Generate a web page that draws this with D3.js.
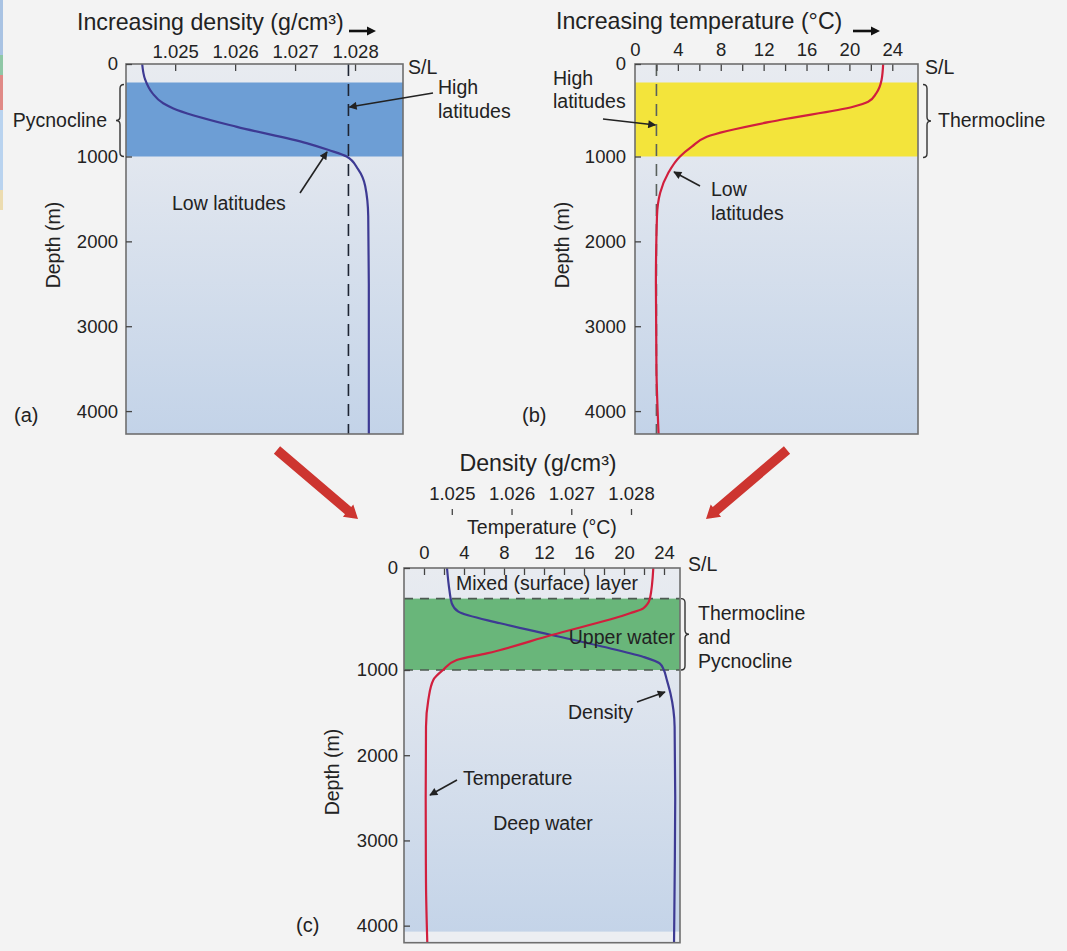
<!DOCTYPE html>
<html>
<head>
<meta charset="utf-8">
<script src="https://cdn.jsdelivr.net/npm/d3@7"></script>
<style>
  html, body { margin: 0; padding: 0; background: #f3f3f3; }
  svg { display: block; font-family: "Liberation Sans", Arial, sans-serif; }
</style>
</head>
<body>
<svg id="chart" width="1067" height="951"></svg>
<script>
// ---- data ----
const depthTicks = [0, 1000, 2000, 3000, 4000];
const densityTicks = [1.025, 1.026, 1.027, 1.028];
const tempLabelTicks = [0, 4, 8, 12, 16, 20, 24];
const tempMinorTicksB = [2, 4, 6, 8, 10, 12, 14, 16, 18, 20, 22, 24];
const tempMinorTicksC = [0, 2, 4, 6, 8, 10, 12, 14, 16, 18, 20, 22, 24];

const clineBandAB = [200, 1000];   // pycnocline (a) / thermocline (b)
const clineBandC = [300, 1000];    // thermocline and pycnocline (c)

// (a) density, low latitudes
const depthsA = [0, 170, 315, 425, 480, 680, 855, 930, 1000, 1150, 1350, 1700, 2500, 3500, 4270];
const densityLowLat = [1.02445, 1.0245, 1.02462, 1.0248, 1.02497, 1.02603, 1.02719, 1.02756, 1.02786, 1.02805, 1.02817, 1.02822, 1.02823, 1.02823, 1.02823];
const densityHighLat = 1.02789;

// (b) temperature, low latitudes
const depthsB = [0, 173, 317, 408, 462, 605, 786, 894, 1000, 1195, 1427, 1705, 2500, 3500, 4270];
const tempLowLat = [23.15, 23.0, 22.5, 21.75, 20.35, 13.5, 6.7, 5.3, 4.2, 3.1, 2.35, 2.05, 1.95, 2.0, 2.2];
const tempHighLat = 2.0;

// (c) combined profile
const depthsCTemp = [0, 297, 395, 444, 657, 837, 902, 1000, 1117, 1352, 1665, 2500, 3500, 4200];
const tempC = [22.93, 22.6, 21.93, 20.6, 12.77, 6.27, 3.27, 1.9, 0.93, 0.43, 0.2, 0.17, 0.2, 0.33];
const depthsCDens = [0, 216, 346, 428, 542, 657, 765, 870, 935, 1000, 1117, 1274, 1665, 2500, 3500, 4200];
const densityC = [1.02492, 1.02496, 1.025, 1.02511, 1.02581, 1.02667, 1.02748, 1.0282, 1.02848, 1.02855, 1.0286, 1.02866, 1.02873, 1.02874, 1.02873, 1.02872];

// ---- styles ----
const INK = "#222";
const BLUE_LINE = "#3d3a93";
const RED_LINE = "#d11f3d";
const TICK_FONT = 18.5;
const LABEL_FONT = 19.5;
const TITLE_FONT = 23.2;

const svg = d3.select("#chart");
const defs = svg.append("defs");

const grad = defs.append("linearGradient").attr("id", "water").attr("x1", 0).attr("y1", 0).attr("x2", 0).attr("y2", 1);
grad.append("stop").attr("offset", "0%").attr("stop-color", "#e8ebf0");
grad.append("stop").attr("offset", "25%").attr("stop-color", "#e2e7ef");
grad.append("stop").attr("offset", "100%").attr("stop-color", "#c3d3e8");

defs.append("marker")
  .attr("id", "head")
  .attr("viewBox", "0 0 10 10")
  .attr("refX", 9).attr("refY", 5)
  .attr("markerWidth", 10).attr("markerHeight", 8)
  .attr("markerUnits", "userSpaceOnUse")
  .attr("orient", "auto")
  .append("path").attr("d", "M0,0 L10,5 L0,10 z").attr("fill", INK);

// leftover sliver of a neighbouring figure at the left edge
const sliverColors = ["#a9c3e3", "#8fc7a6", "#e08a86", "#b9d3ef", "#ecdcb0"];
const sliverStops = [0, 55, 75, 110, 190, 210];
svg.append("g").selectAll("rect").data(sliverColors).join("rect")
  .attr("x", 0).attr("width", 3)
  .attr("y", (d, i) => sliverStops[i]).attr("height", (d, i) => sliverStops[i + 1] - sliverStops[i])
  .attr("fill", d => d);

// ---- scales ----
const yAB = d3.scaleLinear().domain([0, 1000, 4270]).range([64, 156.5, 434]);
const yC = d3.scaleLinear().domain([0, 1000, 4200]).range([568, 670, 942.7]);
const xDensA = d3.scaleLinear().domain([1.02418, 1.0288]).range([126, 403]);
const xTempB = d3.scaleLinear().domain([0, 26.4]).range([635, 918]);
const xDensC = d3.scaleLinear().domain([1.0242, 1.02882]).range([404, 680]);
const xTempC = d3.scaleLinear().domain([-2, 25.6]).range([404, 680]);

function profile(depths, values) {
  return depths.map((d, i) => ({ depth: d, value: values[i] }));
}

function text(g, str, x, y, opt = {}) {
  const t = g.append("text")
    .attr("x", x).attr("y", y)
    .attr("dy", "0.35em")
    .attr("fill", INK)
    .attr("font-size", opt.size ?? LABEL_FONT)
    .attr("text-anchor", opt.anchor ?? "start")
    .text(str);
  if (opt.rotate) t.attr("transform", `rotate(-90,${x},${y})`);
  return t;
}

function pointer(g, x1, y1, x2, y2) {
  g.append("line")
    .attr("x1", x1).attr("y1", y1).attr("x2", x2).attr("y2", y2)
    .attr("stroke", INK).attr("stroke-width", 1.6)
    .attr("marker-end", "url(#head)");
}

// curly brace; dir -1 = nub points left "{", +1 = nub points right "}"
function brace(g, x, y0, y1, dir) {
  const w = 4, r = 4, ym = (y0 + y1) / 2;
  g.append("path")
    .attr("d", `M${x - dir * w},${y0} Q${x},${y0} ${x},${y0 + r} L${x},${ym - r} Q${x},${ym} ${x + dir * w},${ym}` +
      ` Q${x},${ym} ${x},${ym + r} L${x},${y1 - r} Q${x},${y1} ${x - dir * w},${y1}`)
    .attr("fill", "none").attr("stroke", "#333").attr("stroke-width", 1.4);
}

function titleArrow(g, x1, x2, y) {
  g.append("line").attr("x1", x1).attr("y1", y).attr("x2", x2 - 6).attr("y2", y)
    .attr("stroke", "#111").attr("stroke-width", 2.6);
  g.append("path").attr("d", `M${x2 - 9},${y - 4.5} L${x2},${y} L${x2 - 9},${y + 4.5} z`).attr("fill", "#111");
}

function drawBox(g, x, y, depthMax, band, bandColor) {
  const [x0, x1] = x.range();
  g.append("rect")
    .attr("x", x0).attr("y", y(0)).attr("width", x1 - x0).attr("height", y(depthMax) - y(0))
    .attr("fill", "url(#water)");
  g.append("rect")
    .attr("x", x0).attr("y", y(band[0])).attr("width", x1 - x0).attr("height", y(band[1]) - y(band[0]))
    .attr("fill", bandColor);
}

function drawBorder(g, x, y, depthMax) {
  const [x0, x1] = x.range();
  g.append("rect")
    .attr("x", x0).attr("y", y(0)).attr("width", x1 - x0).attr("height", y(depthMax) - y(0))
    .attr("fill", "none").attr("stroke", "#6e6e6e").attr("stroke-width", 1.6);
}

function depthAxis(g, x, y, pad) {
  const ax = g.append("g").attr("transform", `translate(${x.range()[0]},0)`)
    .call(d3.axisLeft(y).tickValues(depthTicks).tickSize(-6).tickPadding(pad).tickFormat(d3.format("d")));
  ax.select(".domain").remove();
  ax.selectAll("line").attr("stroke", "#444").attr("stroke-width", 1.3);
  ax.selectAll("text").attr("fill", INK).attr("font-size", TICK_FONT).attr("font-family", null);
}

function topTicks(g, x, y0, values) {
  const ax = g.append("g").attr("transform", `translate(0,${y0})`)
    .call(d3.axisTop(x).tickValues(values).tickSize(-7).tickFormat(""));
  ax.select(".domain").remove();
  ax.selectAll("line").attr("stroke", "#444").attr("stroke-width", 1.3);
}

function topLabels(g, x, yc, values, fmt) {
  const ax = g.append("g").attr("transform", `translate(0,${yc})`)
    .call(d3.axisTop(x).tickValues(values).tickSize(0).tickPadding(0).tickFormat(fmt));
  ax.select(".domain").remove();
  ax.selectAll("text").attr("fill", INK).attr("font-size", TICK_FONT).attr("font-family", null).attr("dy", "0.35em");
}

function curve(g, x, y, data, color) {
  g.append("path").datum(data)
    .attr("fill", "none").attr("stroke", color).attr("stroke-width", 2.2)
    .attr("d", d3.line().x(d => x(d.value)).y(d => y(d.depth)).curve(d3.curveMonotoneY));
}

function dashedVertical(g, x, y, value, color) {
  g.append("line")
    .attr("x1", x(value)).attr("x2", x(value))
    .attr("y1", y(0)).attr("y2", y(4270))
    .attr("stroke", color).attr("stroke-width", 1.6).attr("stroke-dasharray", "12,8");
}

// ---- panel (a): density ----
const pa = svg.append("g").attr("class", "panel-a");
drawBox(pa, xDensA, yAB, 4270, clineBandAB, "#6d9ed5");
dashedVertical(pa, xDensA, yAB, densityHighLat, "#1d2433");
curve(pa, xDensA, yAB, profile(depthsA, densityLowLat), BLUE_LINE);
topTicks(pa, xDensA, yAB(0), densityTicks);
drawBorder(pa, xDensA, yAB, 4270);
depthAxis(pa, xDensA, yAB, 8);
topLabels(pa, xDensA, 52, densityTicks, d3.format(".3f"));
text(pa, "Increasing density (g/cm³)", 77, 22, { size: TITLE_FONT });
titleArrow(pa, 349, 376, 31);
text(pa, "S/L", 408, 67);
text(pa, "High", 438, 87);
text(pa, "latitudes", 438, 111);
pointer(pa, 433, 93, xDensA(densityHighLat) + 1, 107);
text(pa, "Pycnocline", 107, 120, { anchor: "end" });
brace(pa, 120, yAB(clineBandAB[0]) + 2, yAB(clineBandAB[1]), -1);
text(pa, "Low latitudes", 172, 203);
pointer(pa, 300, 193, 327, 152);
text(pa, "Depth (m)", 53, 245, { anchor: "middle", rotate: true });
text(pa, "(a)", 14, 415, { size: 20 });

// ---- panel (b): temperature ----
const pb = svg.append("g").attr("class", "panel-b");
drawBox(pb, xTempB, yAB, 4270, clineBandAB, "#f3e43b");
dashedVertical(pb, xTempB, yAB, tempHighLat, "#59605c");
curve(pb, xTempB, yAB, profile(depthsB, tempLowLat), RED_LINE);
topTicks(pb, xTempB, yAB(0), tempMinorTicksB);
drawBorder(pb, xTempB, yAB, 4270);
depthAxis(pb, xTempB, yAB, 9);
topLabels(pb, xTempB, 50, tempLabelTicks, d3.format("d"));
text(pb, "Increasing temperature (°C)", 556, 21, { size: TITLE_FONT });
titleArrow(pb, 853, 880, 31);
text(pb, "S/L", 925, 67);
text(pb, "High", 553, 78);
text(pb, "latitudes", 553, 101);
pointer(pb, 603, 119, xTempB(tempHighLat) - 1, 125);
text(pb, "Thermocline", 938, 120);
brace(pb, 927, yAB(clineBandAB[0]) + 2, yAB(clineBandAB[1]) + 1, 1);
text(pb, "Low", 711, 189);
text(pb, "latitudes", 711, 213);
pointer(pb, 700, 186, 674, 172);
text(pb, "Depth (m)", 562, 245, { anchor: "middle", rotate: true });
text(pb, "(b)", 522, 415, { size: 20 });

// ---- big red arrows ----
function bigArrow(g, x1, y1, x2, y2) {
  const ang = Math.atan2(y2 - y1, x2 - x1);
  const len = Math.hypot(x2 - x1, y2 - y1);
  const shaft = 4.8, head = 8, headLen = 13;
  const a = g.append("g").attr("transform", `translate(${x1},${y1}) rotate(${ang * 180 / Math.PI})`);
  a.append("path")
    .attr("d", `M0,${-shaft} L${len - headLen},${-shaft} L${len - headLen},${-head} L${len},0 L${len - headLen},${head} L${len - headLen},${shaft} L0,${shaft} z`)
    .attr("fill", "#cd3530");
}
bigArrow(svg, 277, 450, 358, 519);
bigArrow(svg, 787, 450, 706, 519);

// ---- panel (c): combined ----
const pc = svg.append("g").attr("class", "panel-c");
drawBox(pc, xTempC, yC, 4200, clineBandC, "#69b67a");
pc.append("rect")
  .attr("x", xTempC.range()[0]).attr("y", yC(4070))
  .attr("width", xTempC.range()[1] - xTempC.range()[0]).attr("height", yC(4200) - yC(4070))
  .attr("fill", "#eceef2");
pc.selectAll("line.band-edge").data(clineBandC).join("line")
  .attr("class", "band-edge")
  .attr("x1", xTempC.range()[0]).attr("x2", xTempC.range()[1])
  .attr("y1", d => yC(d)).attr("y2", d => yC(d))
  .attr("stroke", "#4d5a52").attr("stroke-width", 1.6).attr("stroke-dasharray", "9,7");
curve(pc, xDensC, yC, profile(depthsCDens, densityC), BLUE_LINE);
curve(pc, xTempC, yC, profile(depthsCTemp, tempC), RED_LINE);
topTicks(pc, xTempC, yC(0), tempMinorTicksC);
drawBorder(pc, xTempC, yC, 4200);
depthAxis(pc, xTempC, yC, 6);

const densAxC = pc.append("g").attr("transform", "translate(0,515)")
  .call(d3.axisTop(xDensC).tickValues(densityTicks).tickSize(6).tickPadding(9).tickFormat(d3.format(".3f")));
densAxC.select(".domain").remove();
densAxC.selectAll("line").attr("stroke", "#444").attr("stroke-width", 1.3);
densAxC.selectAll("text").attr("fill", INK).attr("font-size", TICK_FONT).attr("font-family", null);

topLabels(pc, xTempC, 553, tempLabelTicks, d3.format("d"));
text(pc, "Density (g/cm³)", 538, 463, { size: TITLE_FONT, anchor: "middle" });
text(pc, "Temperature (°C)", 542, 527, { anchor: "middle" });
text(pc, "S/L", 688, 564);
text(pc, "Mixed (surface) layer", 547, 583, { anchor: "middle" });
text(pc, "Upper water", 675, 637, { anchor: "end" });
brace(pc, 685, yC(clineBandC[0]), yC(clineBandC[1]), 1);
text(pc, "Thermocline", 698, 613);
text(pc, "and", 698, 637);
text(pc, "Pycnocline", 698, 661);
text(pc, "Density", 568, 712);
pointer(pc, 637, 702, 665, 692);
text(pc, "Temperature", 463, 778);
pointer(pc, 457, 780, 430, 795);
text(pc, "Deep water", 543, 823, { anchor: "middle" });
text(pc, "Depth (m)", 332, 772, { anchor: "middle", rotate: true });
text(pc, "(c)", 296, 925, { size: 20 });
</script>
</body>
</html>
